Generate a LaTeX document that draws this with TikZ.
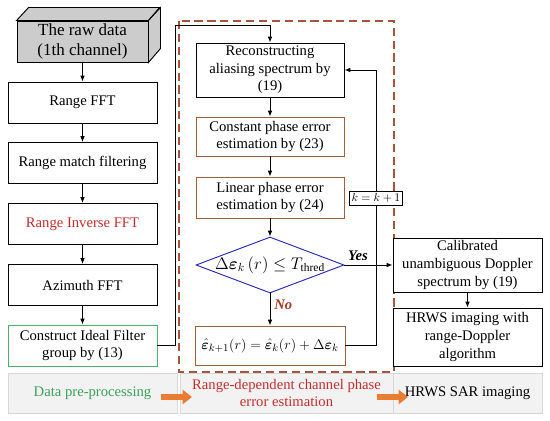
\documentclass[tikz,border=0pt]{standalone}
\usepackage{fontspec}
\setmainfont{Liberation Serif}
\usepackage{amsmath,bm}
\usetikzlibrary{arrows.meta,shapes.geometric}

\definecolor{frameRed}{RGB}{168,84,56}
\definecolor{boxBrown}{RGB}{165,95,55}
\definecolor{condBlue}{RGB}{40,40,190}
\definecolor{filtGreen}{RGB}{70,180,110}
\definecolor{txtGreen}{RGB}{60,160,90}
\definecolor{txtRed}{RGB}{200,45,45}
\definecolor{noRed}{RGB}{170,55,35}
\definecolor{barGray}{RGB}{242,242,242}
\definecolor{barEdge}{RGB}{215,215,215}
\definecolor{flowOrange}{RGB}{232,125,50}

\begin{document}
\begin{tikzpicture}[x=0.03cm,y=-0.03cm,
    font=\fontsize{12.5}{15}\selectfont,
    proc/.style={draw, line width=0.8pt, fill=white, align=center, inner sep=1pt, minimum height=1.23cm},
    lbox/.style={proc, minimum width=4.47cm},
    mbox/.style={proc, minimum width=4.44cm},
    ebox/.style={mbox, draw=boxBrown},
    bar/.style={draw=barEdge, fill=barGray, line width=0.6pt, align=center, minimum height=1.2cm, inner sep=1pt},
    arr/.style={-{Latex[length=5pt,width=4pt]}, line width=0.8pt},
    flow/.style={-{Triangle[length=8pt,width=12pt]}, line width=5pt, flowOrange}]

\useasboundingbox (0,0) rectangle (550,421);

% Stage bars at the bottom
\node[bar, minimum width=5.07cm, text=txtGreen] (pre) at (92.5,393) {Data pre-processing};
\node[bar, minimum width=6.39cm, text=txtRed] (est) at (286.5,393) {Range-dependent channel phase\\error estimation};
\node[bar, minimum width=4.47cm] (sar) at (467.5,393) {HRWS SAR imaging};
\coordinate (f1a) at (161,397);
\coordinate (f1b) at (192,397);
\coordinate (f2a) at (377,397);
\coordinate (f2b) at (408,397);
\draw[flow] (f1a) -- (f1b);
\draw[flow] (f2a) -- (f2b);

% Estimation frame
\draw[frameRed, line width=1.2pt, dash pattern=on 7pt off 4pt] (179,21) rectangle (394,372);

% Pre-processing (left column)
\node[lbox, minimum width=3.93cm, fill=gray!40, font=\fontsize{14.5}{17}\selectfont] (raw) at (82.5,41.5) {The raw data\\(1th channel)};
\filldraw[fill=gray!40, line width=0.8pt] (raw.north west) -- ++(12,-13) -- ++(131,0) -- (raw.north east) -- cycle;
\filldraw[fill=gray!40, line width=0.8pt] (raw.north east) -- ++(12,-13) -- ++(0,41) -- (raw.south east) -- cycle;
\node[lbox] (rfft) at (82.5,102.5) {Range FFT};
\node[lbox] (rmf) at (82.5,163) {Range match filtering};
\node[lbox, text=txtRed] (rifft) at (82.5,224) {Range Inverse FFT};
\node[lbox] (afft) at (82.5,285) {Azimuth FFT};
\node[lbox, draw=filtGreen] (cifg) at (82.5,345.5) {Construct Ideal Filter\\group by (13)};

% Phase error estimation (middle column)
\node[mbox, minimum height=1.62cm] (recon) at (270,70) {Reconstructing\\aliasing spectrum by\\(19)};
\node[ebox, minimum height=1.17cm] (cpe) at (270,136.5) {Constant phase error\\estimation by (23)};
\node[ebox] (lpe) at (270,197.5) {Linear phase error\\estimation by (24)};
\node[diamond, draw=condBlue, line width=0.8pt, minimum width=4.44cm, minimum height=1.68cm, inner sep=0pt] (cond) at (270,265) {};
\node[font=\fontsize{14}{16}\selectfont] (condtxt) at (cond.center) {$\Delta\bm{\varepsilon}_k\left(r\right)\le T_{\mathrm{thred}}$};
\node[ebox, minimum width=4.5cm, minimum height=1.17cm] (upd) at (270,345.5) {$\hat{\bm{\varepsilon}}_{k+1}\!\left(r\right)=\hat{\bm{\varepsilon}}_k\!\left(r\right)+\Delta\bm{\varepsilon}_k$};
\node[draw, fill=white, line width=0.6pt, inner sep=2pt, font=\fontsize{10}{12}\selectfont] (kk) at (376,198) {$k=k+1$};

% Imaging (right column)
\node[lbox, minimum height=1.62cm] (calib) at (467.5,265) {Calibrated\\unambiguous Doppler\\spectrum by (19)};
\node[lbox, minimum height=1.74cm] (hrws) at (467.5,337) {HRWS imaging with\\range-Doppler\\algorithm};

% Connectors
\foreach \a/\b in {raw/rfft, rfft/rmf, rmf/rifft, rifft/afft, afft/cifg, recon/cpe, cpe/lpe, lpe/cond, calib/hrws}
    \draw[arr] (\a) -- (\b);
\coordinate (loopL) at (175,25);
\draw[arr] (cifg.east) -| (loopL) -| (recon.north);
\draw[arr] (cond.east) -- (calib.west) node[pos=0.28, above, font=\fontsize{12.5}{15}\selectfont\bfseries\itshape] {Yes};
\draw[arr] (cond.south) -- (upd.north) node[pos=0.35, right, text=noRed, font=\fontsize{12.5}{15}\selectfont\bfseries\itshape] {No};
\draw[line width=0.8pt] (upd.east) -| (kk.south);
\draw[arr] (kk.north) |- (recon.east);

\end{tikzpicture}
\end{document}
